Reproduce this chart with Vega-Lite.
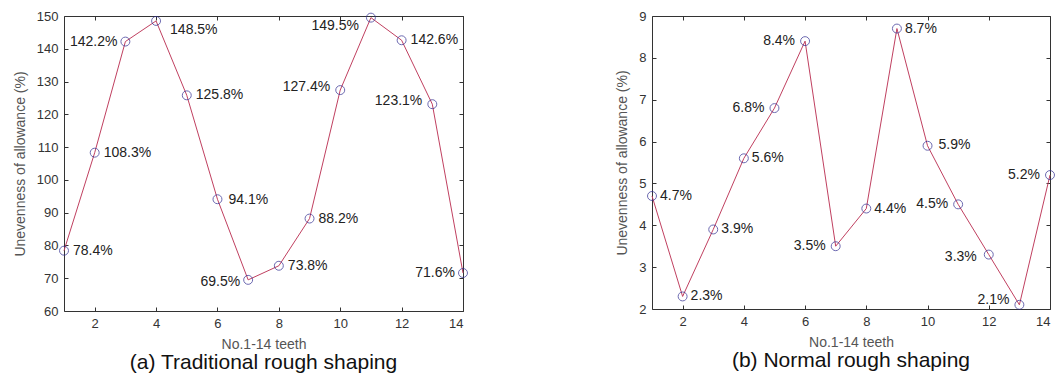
{
  "$schema": "https://vega.github.io/schema/vega-lite/v6.json",
  "background": "white",
  "padding": {"left": 12, "top": 9, "right": 0, "bottom": 0},
  "datasets": {
    "a": [
      {"tooth": 1, "value": 78.4}, {"tooth": 2, "value": 108.3}, {"tooth": 3, "value": 142.2},
      {"tooth": 4, "value": 148.5}, {"tooth": 5, "value": 125.8}, {"tooth": 6, "value": 94.1},
      {"tooth": 7, "value": 69.5}, {"tooth": 8, "value": 73.8}, {"tooth": 9, "value": 88.2},
      {"tooth": 10, "value": 127.4}, {"tooth": 11, "value": 149.5}, {"tooth": 12, "value": 142.6},
      {"tooth": 13, "value": 123.1}, {"tooth": 14, "value": 71.6}
    ],
    "b": [
      {"tooth": 1, "value": 4.7}, {"tooth": 2, "value": 2.3}, {"tooth": 3, "value": 3.9},
      {"tooth": 4, "value": 5.6}, {"tooth": 5, "value": 6.8}, {"tooth": 6, "value": 8.4},
      {"tooth": 7, "value": 3.5}, {"tooth": 8, "value": 4.4}, {"tooth": 9, "value": 8.7},
      {"tooth": 10, "value": 5.9}, {"tooth": 11, "value": 4.5}, {"tooth": 12, "value": 3.3},
      {"tooth": 13, "value": 2.1}, {"tooth": 14, "value": 5.2}
    ]
  },
  "spacing": 145,
  "config": {
    "font": "Liberation Sans",
    "view": {"stroke": "#333333", "strokeWidth": 1},
    "axis": {
      "labelFont": "Liberation Sans", "labelFontSize": 13, "labelColor": "#333333",
      "titleFont": "Liberation Sans", "titleFontSize": 14, "titleColor": "#555555", "titleFontWeight": "normal",
      "domain": false, "grid": false, "tickColor": "#333333", "tickSize": -4, "labelPadding": 10
    },
    "title": {"font": "Liberation Sans", "fontSize": 21, "fontWeight": "normal", "color": "#111111", "orient": "bottom", "anchor": "middle", "frame": "group", "offset": 1},
    "text": {"font": "Liberation Sans", "fontSize": 14, "color": "#222222"}
  },
  "hconcat": [
    {
      "data": {"name": "a"},
      "transform": [{"calculate": "format(datum.value, '.1f') + '%'", "as": "label"}],
      "width": 399, "height": 295,
      "title": "(a) Traditional rough shaping",
      "resolve": {"axis": {"x": "independent", "y": "independent"}},
      "layer": [
        {
          "mark": {"type": "line", "color": "#c04060", "strokeWidth": 1},
          "encoding": {
            "x": {"field": "tooth", "type": "quantitative", "scale": {"domain": [1, 14], "nice": false, "zero": false},
                  "axis": {"orient": "bottom", "values": [2, 4, 6, 8, 10, 12, 14], "title": "No.1-14 teeth", "titlePadding": 7}},
            "y": {"field": "value", "type": "quantitative", "scale": {"domain": [60, 150], "nice": false, "zero": false},
                  "axis": {"orient": "left", "values": [60, 70, 80, 90, 100, 110, 120, 130, 140, 150], "title": "Unevenness of allowance (%)", "titlePadding": 9}}
          }
        },
        {
          "mark": {"type": "point", "shape": "circle", "filled": false, "color": "#2e2a90", "size": 80, "strokeWidth": 1},
          "encoding": {
            "x": {"field": "tooth", "type": "quantitative", "axis": {"orient": "top", "values": [2, 4, 6, 8, 10, 12, 14], "labels": false, "title": null}},
            "y": {"field": "value", "type": "quantitative", "axis": {"orient": "right", "values": [60, 70, 80, 90, 100, 110, 120, 130, 140, 150], "labels": false, "title": null}}
          }
        },
        {
          "transform": [{"filter": {"field": "tooth", "oneOf": [1, 2, 5, 8, 9, 12]}}],
          "mark": {"type": "text", "align": "left", "dx": 9, "dy": 0},
          "encoding": {
            "x": {"field": "tooth", "type": "quantitative", "axis": null},
            "y": {"field": "value", "type": "quantitative", "axis": null},
            "text": {"field": "label", "type": "nominal"}
          }
        },
        {
          "transform": [{"filter": {"field": "tooth", "oneOf": [6]}}],
          "mark": {"type": "text", "align": "left", "dx": 11, "dy": 1},
          "encoding": {
            "x": {"field": "tooth", "type": "quantitative", "axis": null},
            "y": {"field": "value", "type": "quantitative", "axis": null},
            "text": {"field": "label", "type": "nominal"}
          }
        },
        {
          "transform": [{"filter": {"field": "tooth", "oneOf": [4]}}],
          "mark": {"type": "text", "align": "left", "dx": 14, "dy": 9},
          "encoding": {
            "x": {"field": "tooth", "type": "quantitative", "axis": null},
            "y": {"field": "value", "type": "quantitative", "axis": null},
            "text": {"field": "label", "type": "nominal"}
          }
        },
        {
          "transform": [{"filter": {"field": "tooth", "oneOf": [3, 14]}}],
          "mark": {"type": "text", "align": "right", "dx": -8, "dy": 0},
          "encoding": {
            "x": {"field": "tooth", "type": "quantitative", "axis": null},
            "y": {"field": "value", "type": "quantitative", "axis": null},
            "text": {"field": "label", "type": "nominal"}
          }
        },
        {
          "transform": [{"filter": {"field": "tooth", "oneOf": [7]}}],
          "mark": {"type": "text", "align": "right", "dx": -8, "dy": 2},
          "encoding": {
            "x": {"field": "tooth", "type": "quantitative", "axis": null},
            "y": {"field": "value", "type": "quantitative", "axis": null},
            "text": {"field": "label", "type": "nominal"}
          }
        },
        {
          "transform": [{"filter": {"field": "tooth", "oneOf": [10, 13]}}],
          "mark": {"type": "text", "align": "right", "dx": -10, "dy": -3},
          "encoding": {
            "x": {"field": "tooth", "type": "quantitative", "axis": null},
            "y": {"field": "value", "type": "quantitative", "axis": null},
            "text": {"field": "label", "type": "nominal"}
          }
        },
        {
          "transform": [{"filter": {"field": "tooth", "oneOf": [11]}}],
          "mark": {"type": "text", "align": "right", "dx": -12, "dy": 8},
          "encoding": {
            "x": {"field": "tooth", "type": "quantitative", "axis": null},
            "y": {"field": "value", "type": "quantitative", "axis": null},
            "text": {"field": "label", "type": "nominal"}
          }
        }
      ]
    },
    {
      "data": {"name": "b"},
      "transform": [{"calculate": "format(datum.value, '.1f') + '%'", "as": "label"}],
      "width": 398, "height": 293,
      "title": "(b) Normal rough shaping",
      "resolve": {"axis": {"x": "independent", "y": "independent"}},
      "layer": [
        {
          "mark": {"type": "line", "color": "#c04060", "strokeWidth": 1},
          "encoding": {
            "x": {"field": "tooth", "type": "quantitative", "scale": {"domain": [1, 14], "nice": false, "zero": false},
                  "axis": {"orient": "bottom", "values": [2, 4, 6, 8, 10, 12, 14], "title": "No.1-14 teeth", "titlePadding": 7}},
            "y": {"field": "value", "type": "quantitative", "scale": {"domain": [2, 9], "nice": false, "zero": false},
                  "axis": {"orient": "left", "values": [2, 3, 4, 5, 6, 7, 8, 9], "title": "Unevenness of allowance (%)", "titlePadding": 9}}
          }
        },
        {
          "mark": {"type": "point", "shape": "circle", "filled": false, "color": "#2e2a90", "size": 80, "strokeWidth": 1},
          "encoding": {
            "x": {"field": "tooth", "type": "quantitative", "axis": {"orient": "top", "values": [2, 4, 6, 8, 10, 12, 14], "labels": false, "title": null}},
            "y": {"field": "value", "type": "quantitative", "axis": {"orient": "right", "values": [2, 3, 4, 5, 6, 7, 8, 9], "labels": false, "title": null}}
          }
        },
        {
          "transform": [{"filter": {"field": "tooth", "oneOf": [1, 2, 3, 4, 8, 9]}}],
          "mark": {"type": "text", "align": "left", "dx": 8, "dy": 0},
          "encoding": {
            "x": {"field": "tooth", "type": "quantitative", "axis": null},
            "y": {"field": "value", "type": "quantitative", "axis": null},
            "text": {"field": "label", "type": "nominal"}
          }
        },
        {
          "transform": [{"filter": {"field": "tooth", "oneOf": [10]}}],
          "mark": {"type": "text", "align": "left", "dx": 11, "dy": -1},
          "encoding": {
            "x": {"field": "tooth", "type": "quantitative", "axis": null},
            "y": {"field": "value", "type": "quantitative", "axis": null},
            "text": {"field": "label", "type": "nominal"}
          }
        },
        {
          "transform": [{"filter": {"field": "tooth", "oneOf": [5, 6, 7, 11, 14]}}],
          "mark": {"type": "text", "align": "right", "dx": -10, "dy": 0},
          "encoding": {
            "x": {"field": "tooth", "type": "quantitative", "axis": null},
            "y": {"field": "value", "type": "quantitative", "axis": null},
            "text": {"field": "label", "type": "nominal"}
          }
        },
        {
          "transform": [{"filter": {"field": "tooth", "oneOf": [12]}}],
          "mark": {"type": "text", "align": "right", "dx": -12, "dy": 2},
          "encoding": {
            "x": {"field": "tooth", "type": "quantitative", "axis": null},
            "y": {"field": "value", "type": "quantitative", "axis": null},
            "text": {"field": "label", "type": "nominal"}
          }
        },
        {
          "transform": [{"filter": {"field": "tooth", "oneOf": [13]}}],
          "mark": {"type": "text", "align": "right", "dx": -10, "dy": -5},
          "encoding": {
            "x": {"field": "tooth", "type": "quantitative", "axis": null},
            "y": {"field": "value", "type": "quantitative", "axis": null},
            "text": {"field": "label", "type": "nominal"}
          }
        }
      ]
    }
  ]
}
